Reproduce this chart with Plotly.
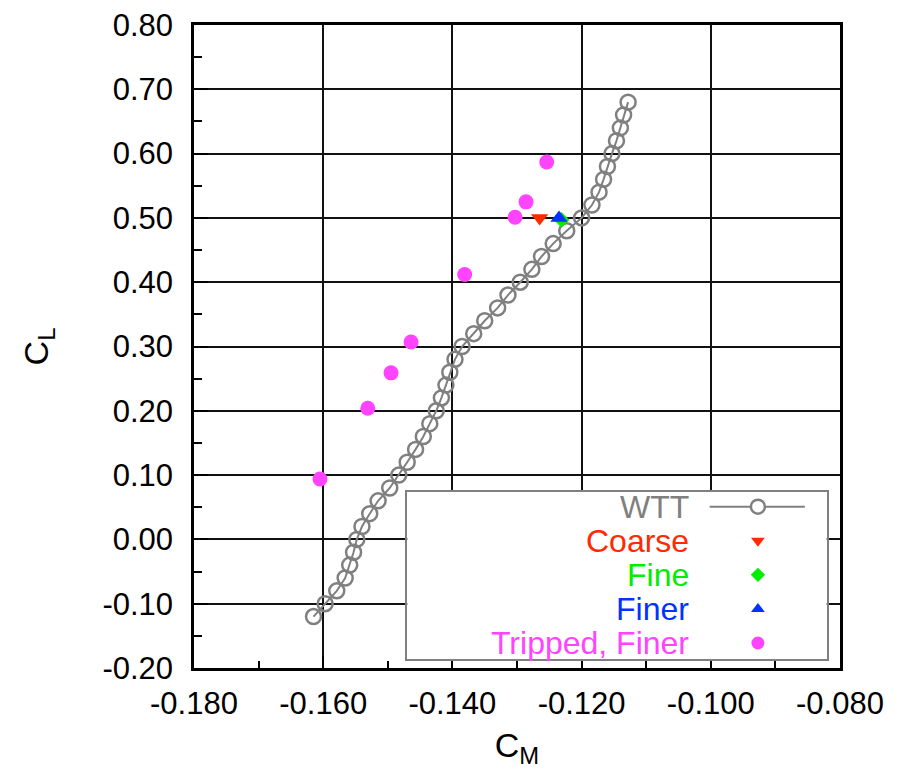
import plotly.graph_objects as go

# ---------------- data ----------------
wtt_cl = [-0.12, -0.10, -0.08, -0.06, -0.04, -0.02, 0.00, 0.02, 0.04, 0.06,
          0.08, 0.10, 0.12, 0.14, 0.16, 0.18, 0.20, 0.22, 0.24, 0.26,
          0.28, 0.30, 0.32, 0.34, 0.36, 0.38, 0.40, 0.42, 0.44, 0.46,
          0.48, 0.50, 0.52, 0.54, 0.56, 0.58, 0.60, 0.62, 0.64, 0.66, 0.68]
wtt_cm = [-0.1615, -0.1597, -0.1579, -0.1566, -0.1559, -0.1553, -0.1548, -0.1540, -0.1528, -0.1515,
          -0.1497, -0.1483, -0.1470, -0.1457, -0.1445, -0.1435, -0.1425, -0.1417, -0.1410, -0.1404,
          -0.1396, -0.1385, -0.1367, -0.1350, -0.1330, -0.1314, -0.1295, -0.1277, -0.1262, -0.1244,
          -0.1223, -0.1200, -0.1184, -0.1173, -0.1166, -0.1160, -0.1153, -0.1146, -0.1140, -0.1135, -0.1128]

coarse_cm = [-0.1265]
coarse_cl = [0.500]
fine_cm = [-0.1231]
fine_cl = [0.497]
finer_cm = [-0.1235]
finer_cl = [0.500]
tripped_cm = [-0.1605, -0.1531, -0.1495, -0.1464, -0.1381, -0.1303, -0.1286, -0.1254]
tripped_cl = [0.094, 0.204, 0.259, 0.307, 0.412, 0.501, 0.525, 0.587]

x_tickvals = [-0.18, -0.16, -0.14, -0.12, -0.10, -0.08]
x_ticktext = ["-0.180", "-0.160", "-0.140", "-0.120", "-0.100", "-0.080"]
y_tickvals = [-0.2, -0.1, 0.0, 0.1, 0.2, 0.3, 0.4, 0.5, 0.6, 0.7, 0.8]
y_ticktext = ["-0.20", "-0.10", "0.00", "0.10", "0.20", "0.30", "0.40", "0.50", "0.60", "0.70", "0.80"]

legend_names = ["WTT", "Coarse", "Fine", "Finer", "Tripped, Finer"]

# ---------------- styles ----------------
FONT = "Liberation Sans, Arial, sans-serif"
C_WTT = "#808080"
C_COARSE = "#ff2a00"
C_FINE = "#00ee00"
C_FINER = "#0033ff"
C_TRIP = "#ff44ff"

fig = go.Figure()

fig.add_trace(go.Scatter(x=wtt_cm, y=wtt_cl, mode="lines+markers", name="WTT",
                         line=dict(color=C_WTT, width=2),
                         marker=dict(symbol="circle-open", size=15, color=C_WTT,
                                     line=dict(color=C_WTT, width=2.5))))
fig.add_trace(go.Scatter(x=coarse_cm, y=coarse_cl, mode="markers", name="Coarse",
                         marker=dict(symbol="triangle-down", size=15, color=C_COARSE)))
fig.add_trace(go.Scatter(x=fine_cm, y=fine_cl, mode="markers", name="Fine",
                         marker=dict(symbol="diamond", size=12, color=C_FINE)))
fig.add_trace(go.Scatter(x=finer_cm, y=finer_cl, mode="markers", name="Finer",
                         marker=dict(symbol="triangle-up", size=15, color=C_FINER)))
fig.add_trace(go.Scatter(x=tripped_cm, y=tripped_cl, mode="markers", name="Tripped, Finer",
                         marker=dict(symbol="circle", size=15, color=C_TRIP)))

# ---------------- custom legend (overlay subplot) ----------------
key_x = 0.836
fig.add_trace(go.Scatter(x=[0.721, 0.948], y=["WTT", "WTT"], mode="lines",
                         line=dict(color=C_WTT, width=2), xaxis="x2", yaxis="y2"))
fig.add_trace(go.Scatter(x=[key_x], y=["WTT"], mode="markers",
                         marker=dict(symbol="circle", size=14, color="white",
                                     line=dict(color=C_WTT, width=2.5)),
                         xaxis="x2", yaxis="y2"))
key_styles = [("Coarse", "triangle-down", 12, C_COARSE),
              ("Fine", "diamond", 11, C_FINE),
              ("Finer", "triangle-up", 12, C_FINER),
              ("Tripped, Finer", "circle", 13, C_TRIP)]
for nm, sym, sz, col in key_styles:
    fig.add_trace(go.Scatter(x=[key_x], y=[nm], mode="markers",
                             marker=dict(symbol=sym, size=sz, color=col),
                             xaxis="x2", yaxis="y2"))

text_cols = [C_WTT, C_COARSE, C_FINE, C_FINER, C_TRIP]
for nm, col in zip(legend_names, text_cols):
    fig.add_annotation(x=0.676, y=nm, xref="x2", yref="y2", text=nm,
                       showarrow=False, xanchor="right", yanchor="middle",
                       font=dict(family=FONT, size=32, color=col))

fig.update_layout(
    width=901, height=773,
    margin=dict(l=194, r=61, t=25, b=105, autoexpand=False),
    paper_bgcolor="white", plot_bgcolor="white",
    showlegend=False,
    font=dict(family=FONT, size=31, color="black"),
    xaxis=dict(range=[-0.18, -0.08], tickvals=x_tickvals, ticktext=x_ticktext,
               showgrid=True, gridcolor="#111111", gridwidth=1.5,
               ticks="inside", ticklen=12, tickwidth=2, tickcolor="black",
               showline=True, linewidth=2.5, linecolor="black", mirror=True,
               zeroline=False, ticklabelstandoff=6, automargin=False,
               minor=dict(dtick=0.01, ticks="inside", ticklen=7, tickwidth=2,
                          tickcolor="black", showgrid=False),
               title=dict(text="C<sub>M</sub>", font=dict(size=34), standoff=14)),
    yaxis=dict(range=[-0.2, 0.8], tickvals=y_tickvals, ticktext=y_ticktext,
               showgrid=True, gridcolor="#111111", gridwidth=1.5,
               ticks="inside", ticklen=14, tickwidth=2, tickcolor="black",
               showline=True, linewidth=2.5, linecolor="black", mirror=True,
               zeroline=False, ticklabelstandoff=12, automargin=False,
               minor=dict(dtick=0.05, ticks="inside", ticklen=8, tickwidth=2,
                          tickcolor="black", showgrid=False),
               title=dict(text="C<sub>L</sub>", font=dict(size=34), standoff=44)),
    xaxis2=dict(domain=[0.3302, 0.9794], anchor="y2", range=[0, 1], automargin=False,
                showgrid=False, zeroline=False, showticklabels=False, ticks="",
                showline=True, linecolor=C_WTT, linewidth=2, mirror=True, fixedrange=True),
    yaxis2=dict(domain=[0.014, 0.2742], anchor="x2", type="category", automargin=False,
                categoryorder="array", categoryarray=legend_names,
                range=[4.47, -0.44],
                showgrid=False, zeroline=False, showticklabels=False, ticks="",
                showline=True, linecolor=C_WTT, linewidth=2, mirror=True, fixedrange=True),
)

fig.write_html("out.html")
